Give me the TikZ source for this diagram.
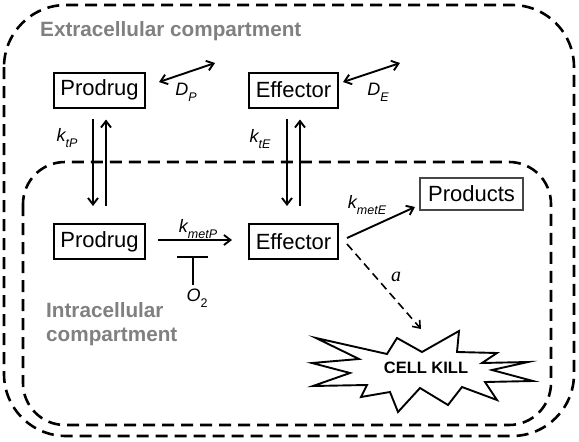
\documentclass[tikz,border=0pt]{standalone}
\usepackage{fontspec}
\setmainfont{Liberation Sans}
\newfontfamily\tnr{Liberation Serif}
\usetikzlibrary{arrows.meta,calc}
\definecolor{labgray}{RGB}{128,128,128}
\definecolor{prodgray}{RGB}{70,70,70}
\newcommand{\lsub}[1]{\raisebox{-0.32em}{\fontsize{12.5}{13}\selectfont #1}}
\begin{document}
\begin{tikzpicture}[x=1pt,y=-1pt,
  box/.style={draw,line width=2pt,inner sep=0pt,font=\fontsize{22}{26}\selectfont},
  tipb/.tip={Straight Barb[length=6.5pt,width=10pt]},
  arr/.style={line width=1.9pt,-tipb},
  darr/.style={line width=1.9pt,tipb-tipb},
  comp/.style={draw,line width=2.6pt,dash pattern=on 12pt off 7pt},
  lab/.style={font=\fontsize{18}{20}\selectfont\itshape,inner sep=0pt},
  title/.style={text=labgray,font=\fontsize{20.7}{24}\selectfont\bfseries,inner sep=0pt,align=left}]

\useasboundingbox (0,0) rectangle (579,442);
\fill[white] (0,0) rectangle (579,442);

% compartments
\draw[comp,rounded corners=62pt] (4,5) rectangle (574,436);
\draw[comp,rounded corners=42pt] (23,162) rectangle (551,425);

\node[title,anchor=west] (ext) at (40,31) {Extracellular compartment};
\node[title,anchor=north west] (intr) at (46,302) {Intracellular\\compartment};

% boxes
\node[box,minimum width=91pt,minimum height=35pt] (P1) at (99.5,90) {Prodrug};
\node[box,minimum width=89pt,minimum height=35pt] (E1) at (293.5,90) {Effector};
\node[box,minimum width=91pt,minimum height=35pt] (P2) at (99.5,241.5) {Prodrug};
\node[box,minimum width=89pt,minimum height=35pt] (E2) at (293.5,241.5) {Effector};
\node[box,draw=prodgray,line width=1.2pt,minimum width=103pt,minimum height=32pt] (Pr) at (471.5,194) {Products};

% transport arrows
\draw[arr,shorten <=10.5pt,shorten >=17pt] ([xshift=-6.5pt]P1.south) -- ([xshift=-6.5pt]P2.north);
\draw[arr,shorten <=17pt,shorten >=11pt] ([xshift=6.5pt]P2.north) -- ([xshift=6.5pt]P1.south);
\draw[arr,shorten <=10.5pt,shorten >=17pt] ([xshift=-6.5pt]E1.south) -- ([xshift=-6.5pt]E2.north);
\draw[arr,shorten <=17pt,shorten >=11pt] ([xshift=6.5pt]E2.north) -- ([xshift=6.5pt]E1.south);
\node[lab] (ktp) at (67,138) {k\lsub{tP}};
\node[lab] (kte) at (260,139) {k\lsub{tE}};

% diffusion
\coordinate (dp1) at (159,82);
\coordinate (dp2) at (215,63);
\coordinate (de1) at (343,82);
\coordinate (de2) at (400,63);
\draw[darr] (dp1) -- (dp2);
\draw[darr] (de1) -- (de2);
\node[lab] (dpl) at (186,92) {D\lsub{P}};
\node[lab] (del) at (378,92) {D\lsub{E}};

% metabolism of prodrug
\draw[arr,shorten <=12pt,shorten >=16pt] ([yshift=1.5pt]P2.east) -- ([yshift=1.5pt]E2.west);
\node[lab] (kmp) at (198,229) {k\lsub{metP}};
\coordinate (tb) at (193,257);
\draw[line width=1.9pt] (177,257) -- (208,257);
\node[lab,anchor=north] (O2) at (197,289) {O\lsub{\upshape 2}};
\draw[line width=1.9pt] (tb) -- (tb |- 0,285);

% effector metabolism
\coordinate (me1) at (347,238);
\coordinate (me2) at (415,207);
\draw[arr] (me1) -- (me2);
\node[lab] (kme) at (367,205) {k\lsub{metE}};

% cell kill
\coordinate (da1) at (347,244);
\coordinate (da2) at (421,329);
\draw[line width=1.6pt,dash pattern=on 8pt off 5pt,-{Straight Barb[length=6.5pt,width=10pt]}] (da1) -- (da2);
\node[inner sep=0pt,font=\tnr\itshape\fontsize{20}{22}\selectfont] (al) at (396,277) {a};

\draw[line width=1.9pt,line join=miter,miter limit=20]
  (316,338) -- (387,354) -- (397,338) -- (422,352) -- (459,331) -- (457,352) --
  (497,353) -- (482,363) -- (528,362) -- (492,370) -- (533,381) -- (485,382) --
  (497,400) -- (462,387) -- (448,405) -- (420,388) -- (398,412) -- (390,392) --
  (361,397) -- (367,385) -- (313,386) -- (350,373) -- (312,363) -- (359,359) -- cycle;
\node[inner sep=0pt,font=\fontsize{16.5}{18}\selectfont\bfseries] (ck) at (426,368) {CELL KILL};
\end{tikzpicture}
\end{document}
